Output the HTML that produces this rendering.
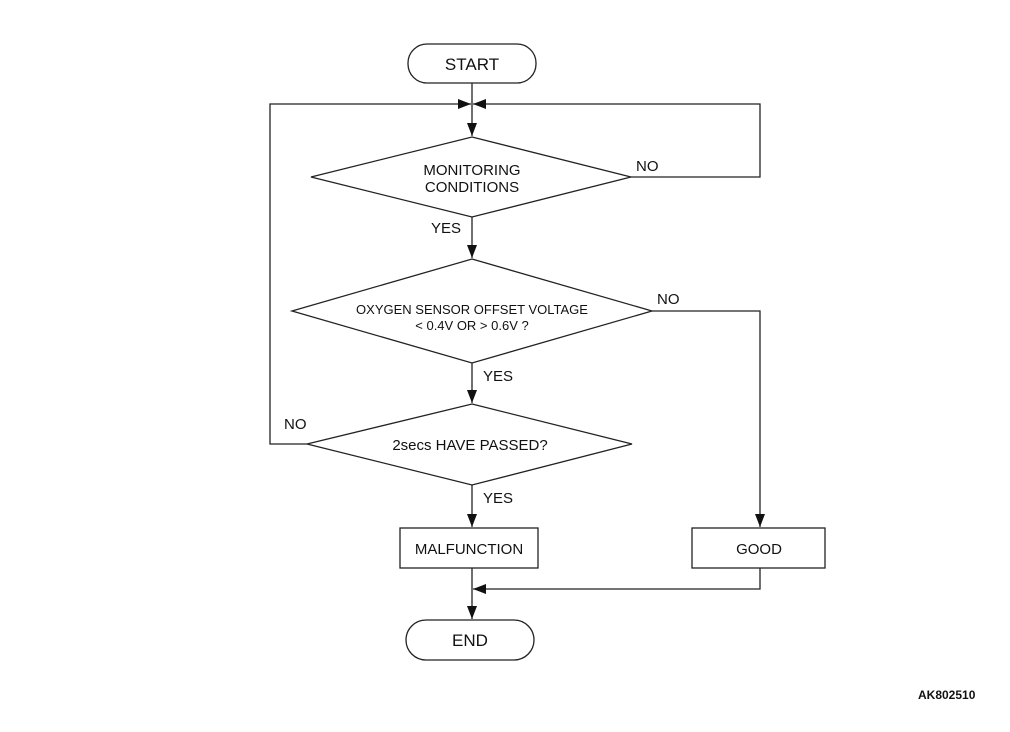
<!DOCTYPE html>
<html><head><meta charset="utf-8"><style>
body{margin:0;background:#fff}
svg text{font-family:"Liberation Sans",sans-serif;fill:#111}
</style></head><body>
<svg width="1010" height="727" viewBox="0 0 1010 727" xmlns="http://www.w3.org/2000/svg">
<defs><marker id="a" markerWidth="14" markerHeight="12" refX="13" refY="5" orient="auto" markerUnits="userSpaceOnUse"><path d="M0,0 L13,5 L0,10 z" fill="#111"/></marker></defs>
<g fill="none" stroke="#222" stroke-width="1.3">
<rect x="408" y="44" width="128" height="39" rx="19"/>
<line x1="472" y1="83" x2="472" y2="136" marker-end="url(#a)"/>
<polyline points="307,444 270,444 270,104 471,104" marker-end="url(#a)"/>
<polyline points="631,177 760,177 760,104 473,104" marker-end="url(#a)"/>
<polygon points="472,137 631,177 472,217 311,177"/>
<line x1="472" y1="217" x2="472" y2="258" marker-end="url(#a)"/>
<polygon points="472,259 652,311 472,363 292,311"/>
<line x1="472" y1="363" x2="472" y2="403" marker-end="url(#a)"/>
<polyline points="652,311 760,311 760,527" marker-end="url(#a)"/>
<polygon points="472,404 632,444 472,485 307,444"/>
<line x1="472" y1="485" x2="472" y2="527" marker-end="url(#a)"/>
<rect x="400" y="528" width="138" height="40"/>
<rect x="692" y="528" width="133" height="40"/>
<line x1="472" y1="568" x2="472" y2="619" marker-end="url(#a)"/>
<polyline points="760,568 760,589 473,589" marker-end="url(#a)"/>
<rect x="406" y="620" width="128" height="40" rx="20"/>
</g>
<g font-size="17" text-anchor="middle">
<text x="472" y="70">START</text>
<text x="472" y="175" font-size="15">MONITORING</text>
<text x="472" y="192" font-size="15">CONDITIONS</text>
<text x="472" y="314" font-size="13">OXYGEN SENSOR OFFSET VOLTAGE</text>
<text x="472" y="330" font-size="13">&lt; 0.4V OR &gt; 0.6V ?</text>
<text x="470" y="450" font-size="15">2secs HAVE PASSED?</text>
<text x="469" y="554" font-size="15">MALFUNCTION</text>
<text x="759" y="554" font-size="15">GOOD</text>
<text x="470" y="646">END</text>
</g>
<g font-size="15">
<text x="636" y="171">NO</text>
<text x="431" y="233">YES</text>
<text x="657" y="304">NO</text>
<text x="483" y="381">YES</text>
<text x="284" y="429">NO</text>
<text x="483" y="503">YES</text>
<text x="918" y="699" font-size="12" font-weight="bold">AK802510</text>
</g>
</svg>
</body></html>
